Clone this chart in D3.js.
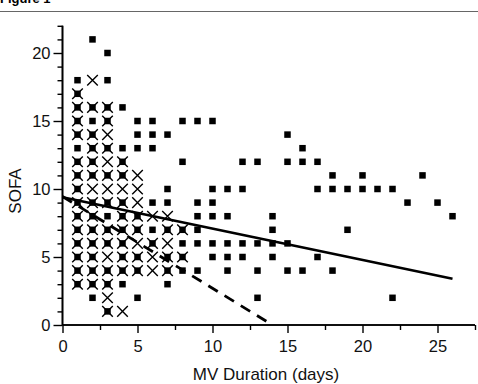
<!DOCTYPE html>
<html>
<head>
<meta charset="utf-8">
<script src="https://cdn.jsdelivr.net/npm/d3@7"></script>
<style>
  html, body { margin: 0; padding: 0; background: #fff; }
  svg { display: block; font-family: "Liberation Sans", Arial, Helvetica, sans-serif; }
</style>
</head>
<body>
<div id="chart"></div>
<script>
// filled squares [MV days, SOFA]
const squarePts = [
  [2,21],
  [3,20],
  [1,18],[3,18],
  [1,17],
  [1,16],[2,16],[3,16],[4,16],
  [1,15],[2,15],[3,15],[5,15],[6,15],[8,15],[9,15],[10,15],
  [1,14],[2,14],[5,14],[6,14],[7,14],[15,14],
  [1,13],[2,13],[3,13],[4,13],[5,13],[6,13],[16,13],
  [1,12],[2,12],[4,12],[8,12],[12,12],[13,12],[15,12],[16,12],[17,12],
  [1,11],[2,11],[3,11],[4,11],[18,11],[20,11],[24,11],
  [1,10],[7,10],[10,10],[11,10],[12,10],[17,10],[18,10],[19,10],[20,10],[21,10],[22,10],
  [1,9],[2,9],[3,9],[4,9],[6,9],[7,9],[9,9],[10,9],[23,9],[25,9],
  [1,8],[2,8],[3,8],[4,8],[5,8],[9,8],[10,8],[11,8],[14,8],[26,8],
  [1,7],[2,7],[3,7],[4,7],[5,7],[6,7],[7,7],[8,7],[9,7],[14,7],[19,7],
  [1,6],[2,6],[3,6],[4,6],[6,6],[8,6],[9,6],[10,6],[11,6],[12,6],[13,6],[14,6],[15,6],
  [1,5],[2,5],[4,5],[5,5],[7,5],[8,5],[10,5],[11,5],[12,5],[14,5],[17,5],
  [1,4],[2,4],[3,4],[4,4],[5,4],[7,4],[8,4],[9,4],[11,4],[13,4],[15,4],[16,4],[18,4],
  [1,3],[2,3],[3,3],[4,3],[7,3],
  [2,2],[5,2],[13,2],[22,2],
  [3,1]
];

// crosses [MV days, SOFA]
const crossPts = [
  [2,18],
  [1,17],
  [1,16],[2,16],[3,16],
  [1,15],[3,15],
  [1,14],[2,14],[3,14],
  [2,13],[3,13],
  [1,12],[2,12],[3,12],[4,12],
  [1,11],[2,11],[3,11],[4,11],[5,11],
  [1,10],[2,10],[3,10],[4,10],[5,10],
  [1,9],[2,9],[3,9],[4,9],[5,9],
  [1,8],[2,8],[4,8],[5,8],[6,8],[7,8],
  [1,7],[2,7],[3,7],[4,7],[5,7],[7,7],[8,7],
  [1,6],[2,6],[3,6],[4,6],[5,6],[6,6],[7,6],
  [1,5],[2,5],[3,5],[4,5],[5,5],[6,5],[7,5],[8,5],
  [1,4],[2,4],[3,4],[4,4],[5,4],[6,4],[7,4],
  [1,3],[2,3],[3,3],
  [3,2],
  [3,1],[4,1]
];

// regression lines (end points)
const solidFit = [[0, 9.4], [26, 3.4]];
const dashedFit = [[0, 9.45], [14, 0]];

const xMajorTicks = [0, 5, 10, 15, 20, 25];
const xMinorTicks = [2.5, 7.5, 12.5, 17.5, 22.5, 27.5];
const yMajorTicks = [0, 5, 10, 15, 20];
const yMinorTicks = [1,2,3,4,6,7,8,9,11,12,13,14,16,17,18,19,21,22];

const width = 478, height = 384;

const svg = d3.select('#chart').append('svg')
    .attr('width', width)
    .attr('height', height);

const x = d3.scaleLinear().domain([0, 27.5]).range([62.5, 475]);
const y = d3.scaleLinear().domain([0, 22]).range([325, 25.8]);

// header (cut off at the top, as in the source figure)
svg.append('text')
    .attr('x', 0)
    .attr('y', 3)
    .style('font-size', '13px')
    .style('font-weight', 'bold')
    .text('Figure 1');

svg.append('line')
    .attr('x1', 0).attr('x2', width)
    .attr('y1', 11.5).attr('y2', 11.5)
    .attr('stroke', '#666')
    .attr('stroke-width', 1.2);

// points
const sq = 6.5;
svg.append('g').selectAll('rect')
    .data(squarePts)
    .enter().append('rect')
    .attr('x', (d) => x(d[0]) - sq/2)
    .attr('y', (d) => y(d[1]) - sq/2)
    .attr('width', sq)
    .attr('height', sq)
    .attr('fill', '#000');

const cr = 5.3;
svg.append('g').selectAll('path')
    .data(crossPts)
    .enter().append('path')
    .attr('d', (d) => {
        const cx = x(d[0]), cy = y(d[1]);
        return 'M' + (cx-cr) + ',' + (cy-cr) + 'L' + (cx+cr) + ',' + (cy+cr) +
            'M' + (cx-cr) + ',' + (cy+cr) + 'L' + (cx+cr) + ',' + (cy-cr);
    })
    .attr('stroke', '#000')
    .attr('stroke-width', 1.4)
    .attr('fill', 'none');

// fit lines
const line = d3.line().x((d) => x(d[0])).y((d) => y(d[1]));

svg.append('path')
    .datum(solidFit)
    .attr('d', line)
    .attr('stroke', '#000')
    .attr('stroke-width', 2.6)
    .attr('fill', 'none');

svg.append('path')
    .datum(dashedFit)
    .attr('d', line)
    .attr('stroke', '#000')
    .attr('stroke-width', 2.8)
    .attr('stroke-dasharray', '11,8')
    .attr('fill', 'none');

// axes
const xMinor = svg.append('g')
    .attr('transform', 'translate(0,325)')
    .call(d3.axisBottom(x).tickValues(xMinorTicks).tickSize(5).tickFormat(''));
const xMajor = svg.append('g')
    .attr('transform', 'translate(0,325)')
    .call(d3.axisBottom(x).tickValues(xMajorTicks).tickSize(8).tickPadding(7).tickFormat(d3.format('d')));

const yMinor = svg.append('g')
    .attr('transform', 'translate(62.5,0)')
    .call(d3.axisLeft(y).tickValues(yMinorTicks).tickSize(5).tickFormat(''));
const yMajor = svg.append('g')
    .attr('transform', 'translate(62.5,0)')
    .call(d3.axisLeft(y).tickValues(yMajorTicks).tickSize(9).tickPadding(3).tickFormat(d3.format('d')));

[xMinor, xMajor, yMinor, yMajor].forEach((g) => {
    g.select('.domain').attr('stroke', '#000').attr('stroke-width', 1.6);
    g.selectAll('.tick line').attr('stroke', '#000').attr('stroke-width', 1.4);
    g.selectAll('.tick text')
        .attr('fill', '#111')
        .style('font-size', '16.5px')
        .style('font-family', '"Liberation Sans", Arial, sans-serif');
});
xMinor.select('.domain').attr('d', 'M62.5,0H475');
xMajor.select('.domain').attr('d', 'M62.5,0H475');
yMinor.select('.domain').attr('d', 'M0,325V25.8');
yMajor.select('.domain').attr('d', 'M0,325V25.8');

// axis titles
svg.append('text')
    .attr('x', 266)
    .attr('y', 380)
    .attr('text-anchor', 'middle')
    .style('font-size', '17px')
    .attr('fill', '#111')
    .text('MV Duration (days)');

svg.append('text')
    .attr('transform', 'translate(21,191) rotate(-90)')
    .attr('text-anchor', 'middle')
    .style('font-size', '17px')
    .attr('fill', '#111')
    .text('SOFA');
</script>
</body>
</html>
